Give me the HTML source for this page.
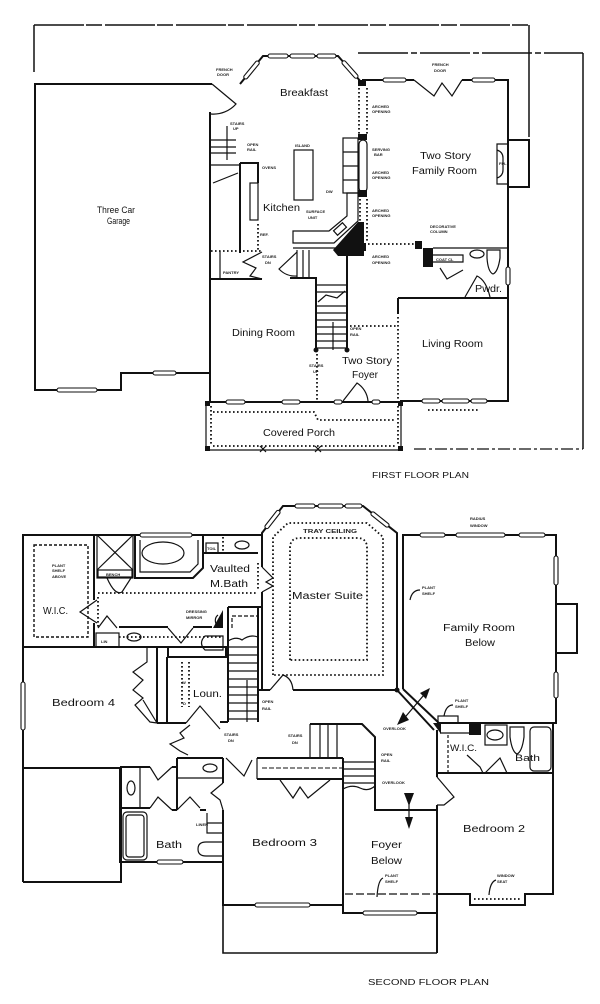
<!DOCTYPE html>
<html><head><meta charset="utf-8"><title>Floor Plans</title>
<style>
html,body{margin:0;padding:0;background:#fff;width:600px;height:1004px;overflow:hidden;}
svg{display:block;}
.t{font-family:"Liberation Sans",sans-serif;fill:#111;stroke:none;font-size:10px;}
.m{font-family:"Liberation Sans",sans-serif;fill:#222;stroke:none;font-size:4px;font-weight:bold;}
.w{fill:#fff;stroke:#111;stroke-width:1.1;}
.d{stroke-dasharray:1.6,2.4;stroke-width:1.8;}
.f{stroke-width:1.2;}
.k{fill:#111;stroke:none;}
</style></head><body>
<svg width="600" height="1004" viewBox="0 0 600 1004" xmlns="http://www.w3.org/2000/svg">
<rect width="600" height="1004" fill="#fff"/>
<g fill="none" stroke="#111" stroke-width="2" stroke-linecap="butt">

<!-- ================= FIRST FLOOR ================= -->
<!-- site lines -->
<path d="M34,72 V25 M529,25 V137 M583,53 V449" stroke-width="1.5"/>
<path d="M34,25 H529" stroke-width="1.6" stroke-dasharray="50,2,16,3"/>
<path d="M358,53 H583" stroke-width="1.6" stroke-dasharray="50,3,6,3"/>
<path d="M414,449 H583" stroke-width="1.3" stroke-dasharray="12,3,3,3"/>

<!-- garage -->
<path d="M212,84 H35 V390 H121 V373 H210"/>
<rect class="w" x="57" y="388" width="40" height="4" rx="2"/>
<rect class="w" x="153" y="371" width="23" height="4" rx="2"/>

<!-- house outline -->
<path d="M210,112 V402 H402"/>
<path d="M400,401 H508 V80 H462 M414,80 H362"/>
<path d="M240,84 L263,56 H338 L362,83"/>
<!-- corner french door -->
<path class="f" d="M212,84 L236,104 A30,30 0 0 1 211,114"/>
<!-- bay windows -->
<rect class="w" x="-11" y="-2" width="22" height="4" rx="2" transform="translate(251.5,70) rotate(-50.6)"/>
<rect class="w" x="268" y="54" width="20" height="4" rx="2"/>
<rect class="w" x="290" y="54" width="25" height="4" rx="2"/>
<rect class="w" x="317" y="54" width="19" height="4" rx="2"/>
<rect class="w" x="-11" y="-2" width="22" height="4" rx="2" transform="translate(350,69.5) rotate(48.4)"/>
<!-- family room top -->
<rect class="w" x="383" y="78" width="23" height="4" rx="2"/>
<rect class="w" x="472" y="78" width="23" height="4" rx="2"/>
<path class="f" d="M414,80 L434,96 L442,83 L452,96 L462,80"/>
<!-- fireplace -->
<path d="M508,140 H529 V187 H508"/>
<path class="f" d="M508,144 H497 V184 H508 M497,150 Q503,152 503,158 V170 Q503,176 497,178"/>
<rect class="w" x="506" y="267" width="4" height="18" rx="2"/>

<!-- breakfast/family separator -->
<path class="d" d="M359,88 V134 M367,88 V134"/>
<rect class="k" x="358" y="80" width="8" height="6"/>
<rect class="k" x="358" y="134" width="9" height="6"/>
<rect class="f" x="359" y="140" width="8" height="52" rx="4"/>
<rect class="k" x="358" y="190" width="9" height="7"/>
<path class="d" d="M360,199 V242 M367,199 V242"/>
<rect class="k" x="357" y="243" width="9" height="8"/>
<path class="d" d="M368,244 H416"/>
<rect class="k" x="415" y="241" width="7" height="8"/>

<!-- kitchen -->
<path class="f" d="M211,140 H236 M211,147 H236 M211,153 H236 M227,126 V160 M211,165 H240 M213,183 L238,173"/>
<path d="M240,163 V253 M240,163 H258 V183"/>
<rect class="f" x="250" y="183" width="8" height="37"/>
<path class="d" d="M258,224 V250"/>
<rect class="f" x="294" y="150" width="19" height="50"/>
<rect class="f" x="343" y="138" width="15" height="55"/>
<path class="f" d="M343,152 H358 M343,166 H358 M343,180 H358"/>
<path class="f" d="M347,193 H358 V221 L334,243 H293 V231 H329 L347,216 Z"/>
<rect class="f" x="-6" y="-3" width="12" height="6" transform="translate(340,229) rotate(-42)"/>
<polygon class="k" points="333,250 358,222 364,222 364,256 338,256"/>

<!-- pantry / stairs down -->
<path class="d" d="M211,251 H262"/>
<path class="f" d="M220,251 V279"/>
<path class="f" d="M262,252 L243,262 L256,268 L250,276 L262,279"/>
<path d="M210,279 H262 M290,278 H317"/>
<path class="f" d="M293,248 H340 M297,250 V278 M303,250 V278 M309,250 V278"/>
<path class="f" d="M297,252 L279,269 A22,22 0 0 0 297,276"/>

<!-- main stair -->
<path d="M316,278 V350 M347,252 V350"/>
<path class="f" d="M316,285 H347 M316,292 H347 M318,302 L326,295 L337,298 L345,291 M316,306 H347 M316,313 H347 M316,320 H347 M316,327 H347 M316,334 H347 M316,341 H347 M316,348 H347 M333,322 V350"/>
<circle class="k" cx="316" cy="350" r="2.5"/>
<circle class="k" cx="347" cy="350" r="2.5"/>
<path class="d" d="M317,354 V400"/>

<!-- foyer -->
<path class="d" d="M350,326 H396"/>
<path d="M398,298 V314"/>
<path class="d" d="M398,317 V399"/>
<path class="f" d="M343,401 L357,383 A24,24 0 0 1 368,401"/>
<rect class="w" x="226" y="400" width="19" height="4" rx="2"/>
<rect class="w" x="282" y="400" width="18" height="4" rx="2"/>
<rect class="w" x="334" y="400" width="8" height="4" rx="2"/>
<rect class="w" x="372" y="400" width="8" height="4" rx="2"/>
<rect class="w" x="422" y="399" width="18" height="4" rx="2"/>
<rect class="w" x="442" y="399" width="27" height="4" rx="2"/>
<rect class="w" x="471" y="399" width="16" height="4" rx="2"/>
<path class="d" d="M428,410 H480" stroke-width="1.2"/>

<!-- powder / living -->
<path d="M398,298 H508"/>
<rect class="k" x="423" y="248" width="10" height="19"/>
<path class="f" d="M433,248 H508 M433,255 H463 V262 H433"/>
<path class="f" d="M440,268 L447,279 L463,270"/>
<path class="f" d="M465,297 L477,276 Q486,280 490,297"/>
<ellipse class="f" cx="477" cy="254" rx="7" ry="4"/>
<path class="f" d="M487,250 H500 V258 Q498,272 493,274 Q488,272 487,258 Z"/>

<!-- covered porch -->
<path class="f" d="M206,402 V450 H401 V402"/>
<path class="d" d="M211,406 V446 M398,406 V446 M213,412 H314 L318,420 H396 M213,446 H396"/>
<rect class="k" x="205" y="401" width="5" height="5"/>
<rect class="k" x="398" y="401" width="5" height="5"/>
<rect class="k" x="205" y="446" width="5" height="5"/>
<rect class="k" x="398" y="446" width="5" height="5"/>
<path class="f" d="M260,446 L266,452 M266,446 L260,452 M315,446 L321,452 M321,446 L315,452"/>

<!-- ================= SECOND FLOOR ================= -->
<path d="M23,882 V535 H262"/>
<rect class="w" x="140" y="533" width="52" height="4" rx="2"/>
<rect class="w" x="21" y="682" width="4" height="48" rx="2"/>
<path d="M23,768 H120 M23,882 H121 V768"/>

<!-- master -->
<path d="M262,567 V533 L283,506 H363 L397,533 V690"/>
<path d="M262,592 V690 M258,690 H270 M293,690 H397"/>
<path class="f" d="M270,690 L283,675 Q292,678 293,690"/>
<path class="f" d="M262,567 L273,578 L266,582 L273,586 L262,592"/>
<rect class="w" x="-11" y="-2" width="22" height="4" rx="2" transform="translate(272.5,519.5) rotate(-52)"/>
<rect class="w" x="295" y="504" width="20" height="4" rx="2"/>
<rect class="w" x="318" y="504" width="25" height="4" rx="2"/>
<rect class="w" x="345" y="504" width="17" height="4" rx="2"/>
<rect class="w" x="-11" y="-2" width="22" height="4" rx="2" transform="translate(380,519.5) rotate(38.5)"/>
<path class="d" d="M273,675 V537 L288,523 H367 L383,537 V675 Z"/>
<path class="d" d="M290,660 V548 Q290,538 300,538 H357 Q367,538 367,548 V660 Z"/>
<circle class="k" cx="397" cy="690" r="2.5"/>

<!-- family room below -->
<path d="M403,689 V535 H556 V723 H437"/>
<path d="M397,690 L434,730 M403,689 L440,724"/>
<rect class="w" x="420" y="533" width="25" height="4" rx="2"/>
<rect class="w" x="456" y="533" width="49" height="4" rx="2"/>
<rect class="w" x="519" y="533" width="26" height="4" rx="2"/>
<rect class="w" x="554" y="556" width="4" height="29" rx="2"/>
<rect class="w" x="554" y="672" width="4" height="26" rx="2"/>
<path d="M556,604 H577 V653 H556"/>
<rect class="f" x="438" y="716" width="20" height="7"/>
<polygon class="k" points="433,723 441,723 441,734"/>

<!-- WIC / bath / bedroom 2 -->
<path d="M437,730 V777 M437,805 V953"/>
<path d="M553,723 V894 H525 V905 H470 V894 H437"/>
<path d="M437,773 H553"/>
<path class="f" d="M440,733 H470" />
<path d="M448,735 V773" stroke-width="1.2" stroke-dasharray="3,2"/>
<rect class="k" x="469" y="723" width="12" height="12"/>
<rect class="f" x="485" y="725" width="22" height="20"/>
<ellipse class="f" cx="495" cy="735" rx="8" ry="5"/>
<path class="f" d="M510,727 H524 V737 Q522,752 517,754 Q512,752 510,737 Z"/>
<rect class="f" x="530" y="727" width="21" height="44" rx="4"/>
<path class="f" d="M467,755 L480,767 L483,773 M485,773 L500,758 L507,773"/>
<path class="f" d="M437,777 L454,797 L444,805 L437,805"/>
<path class="d" d="M474,899 H520" stroke-width="1.2"/>

<!-- overlook / foyer below -->
<path d="M343,758 V913 H437"/>
<rect class="w" x="363" y="911" width="54" height="4" rx="2"/>
<path d="M310,724 H362 L375,737 V810 H437"/>
<path class="f" d="M343,762 H375 M343,769 H375 M343,776 H375 M343,783 H375 M343,789 Q352,784 360,788 T375,786"/>
<path class="f" d="M310,724 V758 M320,725 V758 M328,725 V758 M337,725 V758"/>
<path class="f" d="M409,794 V826"/>
<polygon class="k" points="404,793 414,793 409,806"/>
<polygon class="k" points="405,817 413,817 409,829"/>
<path class="f" d="M401,722 L429,689"/>
<polygon class="k" points="430,688 420,693 426,699"/>
<polygon class="k" points="397,725 403,712 409,720"/>
<path d="M345,894 H437" stroke-width="1.2" stroke-dasharray="8,3"/>

<!-- bedroom 3 -->
<path d="M223,758 V783 M223,810 V905 H343"/>
<path d="M257,758 H343 M177,758 H223"/>
<path class="f" d="M226,758 L244,776 L252,760 M257,758 V779"/>
<path d="M257,779 H343"/>
<path d="M262,768 H342" stroke-width="1" stroke-dasharray="5,2"/>
<path class="f" d="M280,780 L293,798 L300,787 L308,798 L330,780"/>
<rect class="w" x="255" y="903" width="55" height="4" rx="2"/>
<path class="f" d="M223,783 L211,793 L220,800 L223,810"/>
<path d="M223,905 V953 H437" stroke-width="1.6"/>

<!-- hall bath -->
<path d="M120,767 V862 H223"/>
<path d="M177,758 V810 M120,767 H150 M172,767 H177 M120,808 H150 M172,810 H177 M200,810 H206"/>
<path class="f" d="M177,778 H223"/>
<ellipse class="f" cx="210" cy="768" rx="7" ry="4"/>
<path class="f" d="M140,767 V808"/>
<ellipse class="f" cx="131" cy="788" rx="4" ry="7"/>
<path class="f" d="M150,767 L158,780 L172,767 M150,808 L158,797 L172,810 M177,810 L190,797 L200,808"/>
<rect class="f" x="123" y="812" width="24" height="48" rx="4"/>
<rect class="f" x="126" y="815" width="18" height="42" rx="3"/>
<path class="f" d="M207,813 V833 H223 M207,823 H223"/>
<path class="f" d="M222,842 H206 Q198,842 198,849 Q198,856 206,856 H222"/>
<rect class="w" x="157" y="860" width="26" height="4" rx="2"/>

<!-- vaulted bath / WIC -->
<path d="M94,535 V600 M94,623 V647"/>
<path d="M34,545 H88 V637 H34 Z" stroke-width="1.4" stroke-dasharray="3,2"/>
<path class="f" d="M97,600 L80,612 L97,623 M98,628 L107,616 L117,628"/>
<rect class="f" x="97" y="535" width="36" height="43"/>
<path class="f" d="M97,535 L133,570 M133,535 L97,570"/>
<rect class="f" x="98" y="570" width="34" height="7"/>
<path class="f" d="M107,578 Q115,596 122,592 L131,578"/>
<path d="M135,535 V578 H193 L203,568 V535"/>
<ellipse class="f" cx="163" cy="553" rx="21" ry="11"/>
<path class="f" d="M140,540 V572 H190 L198,564 V540"/>
<path d="M203,553 H258"/>
<rect class="f" x="206" y="543" width="12" height="10"/>
<path class="d" d="M223,537 V552"/>
<ellipse class="f" cx="242" cy="545" rx="7" ry="4"/>
<path class="d" d="M98,593 H258 M258,563 V590 M98,597 V628"/>
<path d="M119,627 H168 M193,627 H212"/>
<path class="f" d="M168,628 L181,643 L193,628"/>
<polygon class="k" points="213,628 223,610 223,628"/>
<path class="d" d="M119,637 H223"/>
<ellipse class="f" cx="134" cy="637" rx="7" ry="4"/>
<path class="f" d="M223,636 H205 Q198,643 205,650 H223 Z"/>
<path d="M23,647 H168 M168,647 V657 H226 V647 H168"/>
<rect class="f" x="96" y="633" width="23" height="14"/>

<!-- stairs second floor -->
<path d="M228,607 H262 M228,607 V722 M258,607 V722"/>
<path class="f" d="M232,628 V616 H257" stroke-dasharray="4,2"/>
<path class="f" d="M228,641 Q236,636 242,640 Q250,634 258,637"/>
<path class="f" d="M228,647 H258 M228,655 H258 M228,663 H258 M228,671 H258 M228,679 H258 M228,687 H258 M228,695 H258 M228,703 H258 M228,711 H258 M228,719 H258 M247,680 V722"/>

<!-- laundry / bedroom 4 doors -->
<path d="M157,648 V723 M167,657 V723 M157,723 H186 M220,722 H228"/>
<path class="d" d="M182,662 V707 M189,662 V707"/>
<path class="f" d="M186,723 L200,706 L220,729"/>
<path class="f" d="M147,648 V662 L133,672 L143,680 L133,690 L143,698 L135,705 L150,722 L157,723"/>
<path class="f" d="M190,725 L180,733 L184,738 L170,744 L180,751 L188,755"/>
<path class="f" d="M143,700 L157,723"/>

<!-- leader lines -->
<path class="f" d="M420,590 Q412,590 410,600 M453,705 Q446,705 444,716 M383,878 Q378,880 377,897 M496,880 Q490,882 489,895 M218,615 Q214,618 216,624"/>
</g>

<!-- ============ TEXT ============ -->
<g>
<text class="t" x="280" y="96" textLength="48" lengthAdjust="spacingAndGlyphs">Breakfast</text>
<text class="t" x="263" y="211" textLength="37" lengthAdjust="spacingAndGlyphs">Kitchen</text>
<text class="t" x="420" y="159" textLength="51" lengthAdjust="spacingAndGlyphs">Two Story</text>
<text class="t" x="412" y="174" textLength="65" lengthAdjust="spacingAndGlyphs">Family Room</text>
<text class="t" x="97" y="213" textLength="38" lengthAdjust="spacingAndGlyphs" style="font-size:9px">Three Car</text>
<text class="t" x="107" y="224" textLength="23" lengthAdjust="spacingAndGlyphs" style="font-size:9px">Garage</text>
<text class="t" x="232" y="336" textLength="63" lengthAdjust="spacingAndGlyphs">Dining Room</text>
<text class="t" x="342" y="364" textLength="50" lengthAdjust="spacingAndGlyphs">Two Story</text>
<text class="t" x="352" y="378" textLength="26" lengthAdjust="spacingAndGlyphs">Foyer</text>
<text class="t" x="422" y="347" textLength="61" lengthAdjust="spacingAndGlyphs">Living Room</text>
<text class="t" x="475" y="292" textLength="27" lengthAdjust="spacingAndGlyphs">Pwdr.</text>
<text class="t" x="263" y="436" textLength="72" lengthAdjust="spacingAndGlyphs">Covered Porch</text>
<text class="t" x="372" y="478" textLength="97" lengthAdjust="spacingAndGlyphs" style="font-size:8px">FIRST FLOOR PLAN</text>

<text class="t" x="210" y="572" textLength="40" lengthAdjust="spacingAndGlyphs">Vaulted</text>
<text class="t" x="210" y="587" textLength="38" lengthAdjust="spacingAndGlyphs">M.Bath</text>
<text class="t" x="43" y="614" textLength="25" lengthAdjust="spacingAndGlyphs">W.I.C.</text>
<text class="t" x="52" y="706" textLength="63" lengthAdjust="spacingAndGlyphs">Bedroom 4</text>
<text class="t" x="193" y="697" textLength="29" lengthAdjust="spacingAndGlyphs">Loun.</text>
<text class="t" x="292" y="599" textLength="71" lengthAdjust="spacingAndGlyphs">Master Suite</text>
<text class="t" x="443" y="631" textLength="72" lengthAdjust="spacingAndGlyphs">Family Room</text>
<text class="t" x="465" y="646" textLength="30" lengthAdjust="spacingAndGlyphs">Below</text>
<text class="t" x="252" y="846" textLength="65" lengthAdjust="spacingAndGlyphs">Bedroom 3</text>
<text class="t" x="156" y="848" textLength="26" lengthAdjust="spacingAndGlyphs">Bath</text>
<text class="t" x="463" y="832" textLength="62" lengthAdjust="spacingAndGlyphs">Bedroom 2</text>
<text class="t" x="371" y="848" textLength="31" lengthAdjust="spacingAndGlyphs">Foyer</text>
<text class="t" x="371" y="864" textLength="31" lengthAdjust="spacingAndGlyphs">Below</text>
<text class="t" x="450" y="751" textLength="27" lengthAdjust="spacingAndGlyphs" style="font-size:9px">W.I.C.</text>
<text class="t" x="515" y="761" textLength="25" lengthAdjust="spacingAndGlyphs" style="font-size:9px">Bath</text>
<text class="t" x="368" y="985" textLength="121" lengthAdjust="spacingAndGlyphs" style="font-size:8px">SECOND FLOOR PLAN</text>

<!-- small notes -->
<text class="m" x="216" y="71">FRENCH</text><text class="m" x="217" y="76">DOOR</text>
<text class="m" x="432" y="66">FRENCH</text><text class="m" x="434" y="72">DOOR</text>
<text class="m" x="372" y="108">ARCHED</text><text class="m" x="372" y="113">OPENING</text>
<text class="m" x="230" y="125">STAIRS</text><text class="m" x="233" y="130">UP</text>
<text class="m" x="247" y="146">OPEN</text><text class="m" x="247" y="151">RAIL</text>
<text class="m" x="295" y="147">ISLAND</text>
<text class="m" x="262" y="169">OVENS</text>
<text class="m" x="372" y="151">SERVING</text><text class="m" x="374" y="156">BAR</text>
<text class="m" x="372" y="174">ARCHED</text><text class="m" x="372" y="179">OPENING</text>
<text class="m" x="326" y="193">DW</text>
<text class="m" x="306" y="213">SURFACE</text><text class="m" x="308" y="219">UNIT</text>
<text class="m" x="260" y="236">REF.</text>
<text class="m" x="372" y="212">ARCHED</text><text class="m" x="372" y="217">OPENING</text>
<text class="m" x="430" y="228">DECORATIVE</text><text class="m" x="430" y="233">COLUMN</text>
<text class="m" x="436" y="261">COAT CL</text>
<text class="m" x="372" y="258">ARCHED</text><text class="m" x="372" y="264">OPENING</text>
<text class="m" x="262" y="258">STAIRS</text><text class="m" x="265" y="264">DN</text>
<text class="m" x="223" y="274">PANTRY</text>
<text class="m" x="350" y="330">OPEN</text><text class="m" x="350" y="336">RAIL</text>
<text class="m" x="309" y="367">STAIRS</text><text class="m" x="313" y="373">UP</text>
<text class="m" x="499" y="165">FPL</text>

<text class="m" x="52" y="567">PLANT</text><text class="m" x="52" y="572">SHELF</text><text class="m" x="52" y="578">ABOVE</text>
<text class="m" x="106" y="576">BENCH</text>
<text class="m" x="207" y="550">TOIL</text>
<text class="m" x="186" y="613">DRESSING</text><text class="m" x="186" y="619">MIRROR</text>
<text class="m" x="101" y="643">LIN</text>
<text class="m" x="303" y="533" textLength="54" lengthAdjust="spacingAndGlyphs" style="font-size:5px">TRAY CEILING</text>
<text class="m" x="470" y="520">RADIUS</text><text class="m" x="470" y="527">WINDOW</text>
<text class="m" x="422" y="589">PLANT</text><text class="m" x="422" y="595">SHELF</text>
<text class="m" x="455" y="702">PLANT</text><text class="m" x="455" y="708">SHELF</text>
<text class="m" x="383" y="730">OVERLOOK</text>
<text class="m" x="381" y="756">OPEN</text><text class="m" x="381" y="762">RAIL</text>
<text class="m" x="382" y="784">OVERLOOK</text>
<text class="m" x="262" y="703">OPEN</text><text class="m" x="262" y="710">RAIL</text>
<text class="m" x="224" y="736">STAIRS</text><text class="m" x="228" y="742">DN</text>
<text class="m" x="288" y="737">STAIRS</text><text class="m" x="292" y="744">DN</text>
<text class="m" x="196" y="826">LINEN</text>
<text class="m" x="385" y="877">PLANT</text><text class="m" x="385" y="883">SHELF</text>
<text class="m" x="497" y="877">WINDOW</text><text class="m" x="497" y="883">SEAT</text>
<text class="m" x="182" y="684">W</text><text class="m" x="183" y="705">D</text>
</g>
</svg>
</body></html>
